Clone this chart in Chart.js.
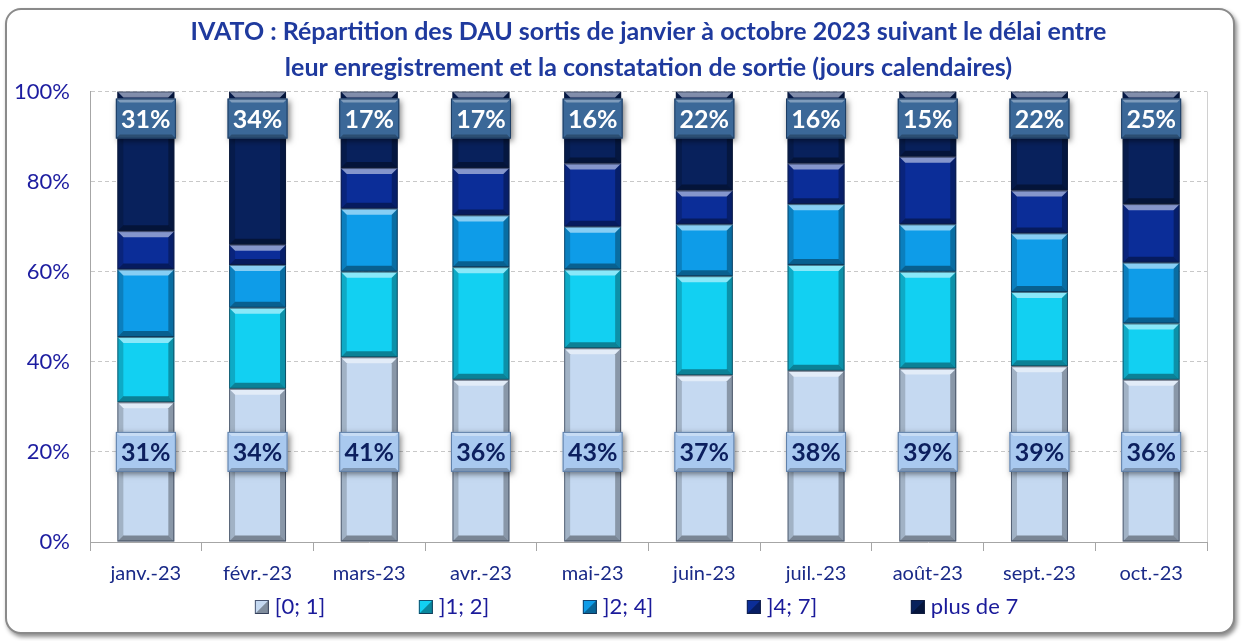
<!DOCTYPE html>
<html>
<head>
<meta charset="utf-8">
<script src="https://cdn.jsdelivr.net/npm/chart.js@4.4.1/dist/chart.umd.min.js"></script>
<style>
  html, body { margin: 0; padding: 0; background: #fff; }
  #wrap { position: relative; width: 1242px; height: 641px; overflow: hidden; }
  #frame {
    position: absolute; left: 5px; top: 8px; width: 1226px; height: 622px;
    border: 2px solid #8a8a8a; border-radius: 16px;
    box-shadow: 2px 3px 4px rgba(0,0,0,0.45);
    background: #fff;
  }
  #c { position: absolute; left: 0; top: 0; }
</style>
</head>
<body>
<div id="wrap">
  <div id="frame"></div>
  <canvas id="c" width="1242" height="641"></canvas>
</div>
<script>
const months = ["janv.-23", "févr.-23", "mars-23", "avr.-23", "mai-23", "juin-23", "juil.-23", "août-23", "sept.-23", "oct.-23"];
const seriesNames = ["[0; 1]", "]1; 2]", "]2; 4]", "]4; 7]", "plus de 7"];
const d01 = [31, 34, 41, 36, 43, 37, 38, 38.5, 39, 36];
const d12 = [14.5, 18, 19, 25, 17.5, 22, 23.5, 21.5, 16.5, 12.5];
const d24 = [15, 9.5, 14, 11.5, 9.5, 11.5, 13.5, 10.5, 13, 13.5];
const d47 = [8.5, 4.5, 9, 10.5, 14, 7.5, 9, 15, 9.5, 13];
const dPlus7 = [31, 34, 17, 17, 16, 22, 16, 14.5, 22, 25];
const yTicks = [0, 20, 40, 60, 80, 100];

const colors = ["#c5d9f1", "#12d0f2", "#0e9ce8", "#0b2d98", "#08215c"];
const FONT = "Lato, 'Liberation Sans', sans-serif";

const face = (ctx, pts, col) => {
  ctx.beginPath();
  ctx.moveTo(pts[0][0], pts[0][1]);
  pts.slice(1).forEach((q) => ctx.lineTo(q[0], q[1]));
  ctx.closePath();
  ctx.fillStyle = col;
  ctx.fill();
};

// bevel look on every bar, like the excel "relief" effect
const bevelPlugin = {
  id: "bevel",
  afterDatasetsDraw(chart) {
    const ctx = chart.ctx;
    chart.data.datasets.forEach((ds, i) => {
      chart.getDatasetMeta(i).data.forEach((bar) => {
        const p = bar.getProps(["x", "y", "base", "width"], true);
        const l = p.x - p.width / 2, r = p.x + p.width / 2;
        const t = Math.min(p.y, p.base), b = Math.max(p.y, p.base);
        const bv = Math.min(6, (b - t) / 2);
        ctx.save();
        face(ctx, [[l, t], [r, t], [r - bv, t + bv], [l + bv, t + bv]], "rgba(255,255,255,0.5)");
        face(ctx, [[l, b], [r, b], [r - bv, b - bv], [l + bv, b - bv]], "rgba(0,0,0,0.38)");
        face(ctx, [[l, t], [l + bv, t + bv], [l + bv, b - bv], [l, b]], "rgba(0,0,0,0.18)");
        face(ctx, [[r, t], [r - bv, t + bv], [r - bv, b - bv], [r, b]], "rgba(0,0,0,0.3)");
        ctx.strokeStyle = "rgba(20,30,50,0.55)";
        ctx.lineWidth = 1;
        ctx.strokeRect(l + 0.5, t + 0.5, r - l - 1, b - t - 1);
        ctx.restore();
      });
    });
  },
};

// boxed value labels for first and last series, plus the legend row
const labelPlugin = {
  id: "boxLabels",
  afterDraw(chart) {
    const ctx = chart.ctx;
    const yScale = chart.scales.y;
    const area = chart.chartArea;
    ctx.save();
    ctx.strokeStyle = "#d0d0d0";
    ctx.lineWidth = 1;
    ctx.beginPath();
    ctx.moveTo(area.right + 0.5, area.top);
    ctx.lineTo(area.right + 0.5, area.bottom);
    ctx.stroke();
    ctx.restore();

    const specs = [
      { ds: 0, at: 20, fill: "#a9c9ef", dark: "#5f7fa8", text: "#0c1f5e" },
      { ds: 4, at: 94, fill: "#3b6898", dark: "#1d3c63", text: "#ffffff" },
    ];
    specs.forEach((s) => {
      const vals = chart.data.datasets[s.ds].data;
      chart.getDatasetMeta(s.ds).data.forEach((bar, j) => {
        const w = 60, h = 40;
        const cx = bar.x, cy = yScale.getPixelForValue(s.at);
        const l = cx - w / 2, t = cy - h / 2;
        ctx.save();
        ctx.shadowColor = "rgba(0,0,0,0.5)";
        ctx.shadowBlur = 6;
        ctx.shadowOffsetX = 2;
        ctx.shadowOffsetY = 2;
        ctx.fillStyle = s.fill;
        ctx.fillRect(l, t, w, h);
        ctx.restore();
        ctx.save();
        const bv = 4;
        face(ctx, [[l, t], [l + w, t], [l + w - bv, t + bv], [l + bv, t + bv]], "rgba(255,255,255,0.35)");
        face(ctx, [[l, t + h], [l + w, t + h], [l + w - bv, t + h - bv], [l + bv, t + h - bv]], "rgba(0,0,0,0.25)");
        ctx.strokeStyle = s.dark;
        ctx.lineWidth = 1;
        ctx.strokeRect(l + 0.5, t + 0.5, w - 1, h - 1);
        ctx.fillStyle = s.text;
        ctx.font = "bold 25px " + FONT;
        ctx.textAlign = "center";
        ctx.textBaseline = "middle";
        ctx.fillText(Math.round(vals[j]) + "%", cx, cy + 1);
        ctx.restore();
      });
    });

    // legend: excel-like equal slots
    const slot = 164, sw = 14;
    ctx.save();
    ctx.font = "22px " + FONT;
    const lastW = sw + 6 + ctx.measureText(seriesNames[seriesNames.length - 1]).width;
    const total = slot * (seriesNames.length - 1) + lastW;
    let x = (area.left + area.right) / 2 - total / 2 - 12;
    const ly = chart.height - 34;
    seriesNames.forEach((name, i) => {
      ctx.fillStyle = colors[i];
      ctx.fillRect(x, ly - sw / 2, sw, sw);
      face(ctx, [[x + sw, ly - sw / 2], [x + sw, ly + sw / 2], [x, ly + sw / 2]], "rgba(0,0,0,0.35)");
      ctx.strokeStyle = "rgba(20,30,60,0.7)";
      ctx.lineWidth = 1;
      ctx.strokeRect(x + 0.5, ly - sw / 2 + 0.5, sw - 1, sw - 1);
      ctx.fillStyle = "#1a1a9a";
      ctx.textAlign = "left";
      ctx.textBaseline = "middle";
      ctx.fillText(name, x + sw + 6, ly);
      x += slot;
    });
    ctx.restore();
  },
};

const allSeries = [d01, d12, d24, d47, dPlus7];

new Chart(document.getElementById("c").getContext("2d"), {
  type: "bar",
  data: {
    labels: months,
    datasets: allSeries.map((arr, i) => ({
      label: seriesNames[i],
      data: arr,
      backgroundColor: colors[i],
      borderWidth: 0,
      barPercentage: 0.51,
      categoryPercentage: 1,
    })),
  },
  options: {
    responsive: false,
    animation: false,
    layout: { padding: { left: 0, right: 35, top: 0, bottom: 44 } },
    scales: {
      x: {
        stacked: true,
        grid: { display: true, drawOnChartArea: false, drawTicks: true, tickLength: 9, color: "#a6a6a6", offset: true },
        border: { display: true, color: "#a6a6a6" },
        ticks: { color: "#1a2a88", font: { family: FONT, size: 20 }, padding: 11, maxRotation: 0 },
      },
      y: {
        stacked: true,
        min: 0,
        max: 100,
        afterBuildTicks: (scale) => { scale.ticks = yTicks.map((v) => ({ value: v })); },
        afterFit: (scale) => { scale.width = 90; },
        grid: { color: "#c8c8c8", drawTicks: false },
        border: { display: true, color: "#a6a6a6", dash: [4, 3] },
        ticks: { color: "#1c1ca0", font: { family: FONT, size: 22 }, padding: 20, callback: (v) => v + "%" },
      },
    },
    plugins: {
      title: {
        display: true,
        fullSize: false,
        text: [
          "IVATO : Répartition des DAU sortis de janvier à octobre 2023 suivant le délai entre",
          "leur enregistrement et la constatation de sortie (jours calendaires)",
        ],
        color: "#1f3a9e",
        font: { family: FONT, size: 25, weight: "bold", lineHeight: 1.45 },
        padding: { top: 14, bottom: 5 },
      },
      legend: { display: false },
      tooltip: { enabled: false },
    },
  },
  plugins: [bevelPlugin, labelPlugin],
});
</script>
</body>
</html>
